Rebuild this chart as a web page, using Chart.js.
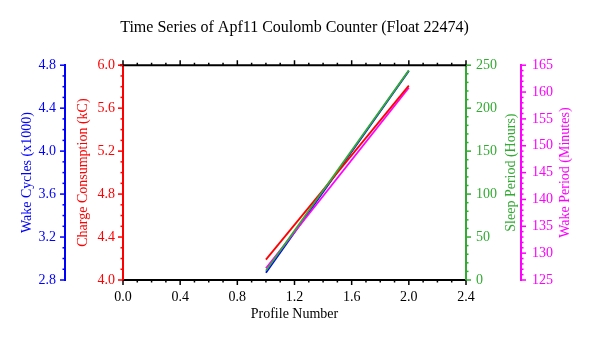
<!DOCTYPE html>
<html>
<head>
<meta charset="utf-8">
<script src="https://cdn.jsdelivr.net/npm/chart.js@4/dist/chart.umd.min.js"></script>
<style>
html,body{margin:0;padding:0;background:#fff;}
canvas{display:block;}
</style>
</head>
<body>
<canvas id="c" width="589" height="338"></canvas>
<script>
// ---- data ----
const profileNumbers = [1, 2];
const wakeCycles = [2.868, 4.747];      // x1000
const chargeConsumption = [4.19, 5.81]; // kC
const sleepPeriod = [10.8, 244];        // hours
const wakePeriod = [127.2, 160.8];      // minutes

const chartTitle = 'Time Series of Apf11 Coulomb Counter (Float 22474)';
const xTitle = 'Profile Number';
const yTitles = {
  yW: 'Wake Cycles (x1000)',
  yC: 'Charge Consumption (kC)',
  yS: 'Sleep Period (Hours)',
  yP: 'Wake Period (Minutes)'
};

const BLUE = '#0000ff', RED = '#ff0000', GREEN = '#33aa33', MAG = '#ff00ff';
const FONT = '"Liberation Serif", "DejaVu Serif", serif';

const majorStep = { x: 0.4, yW: 0.4, yC: 0.4, yS: 50, yP: 5 };
const decimals = { x: 1, yW: 1, yC: 1, yS: 0, yP: 0 };
function isMajor(v, step) {
  const r = v / step;
  return Math.abs(r - Math.round(r)) < 1e-6;
}
function labelCb(id) {
  return function (v) { return isMajor(v, majorStep[id]) ? Number(v).toFixed(decimals[id]) : ''; };
}
function pts(ys) { return profileNumbers.map((x, i) => ({ x: x, y: ys[i] })); }

const tickPlugin = {
  id: 'customTicks',
  afterDraw(chart) {
    const ctx = chart.ctx;
    const ca = chart.chartArea;
    ctx.save();
    // top frame line
    ctx.strokeStyle = '#000';
    ctx.lineWidth = 2;
    ctx.beginPath();
    ctx.moveTo(ca.left - 3, ca.top);
    ctx.lineTo(ca.right + 1, ca.top);
    ctx.stroke();
    ctx.lineWidth = 1.5;
    for (const id of Object.keys(majorStep)) {
      const s = chart.scales[id];
      ctx.strokeStyle = s.options.border.color;
      for (const t of s.ticks) {
        const len = isMajor(t.value, majorStep[id]) ? 5 : 2.5;
        const p = s.getPixelForValue(t.value);
        ctx.beginPath();
        if (id === 'x') {
          ctx.moveTo(p, s.top); ctx.lineTo(p, s.top + len);
          ctx.moveTo(p, ca.top); ctx.lineTo(p, ca.top - len);
        } else if (s.position === 'left') {
          ctx.moveTo(s.right, p); ctx.lineTo(s.right - len, p);
        } else {
          ctx.moveTo(s.left, p); ctx.lineTo(s.left + len, p);
        }
        ctx.stroke();
      }
    }
    // y axis titles (all read bottom-to-top)
    const cy = (ca.top + ca.bottom) / 2;
    const titleX = { yW: chart.scales.yW.left + 13, yC: chart.scales.yC.left + 18,
                     yS: chart.scales.yS.left + 45, yP: chart.scales.yP.left + 44 };
    ctx.font = '14px ' + FONT;
    ctx.textAlign = 'center';
    ctx.textBaseline = 'middle';
    for (const id of Object.keys(yTitles)) {
      ctx.save();
      ctx.fillStyle = chart.scales[id].options.border.color;
      ctx.translate(titleX[id], cy);
      ctx.rotate(-Math.PI / 2);
      ctx.fillText(yTitles[id], 0, 0);
      ctx.restore();
    }
    ctx.restore();
  }
};

function yScale(id, color, min, max, step, position, weight, width, pad) {
  return {
    type: 'linear', position: position, weight: weight, min: min, max: max,
    grid: { display: false, drawOnChartArea: false, drawTicks: false },
    border: { display: true, color: color, width: 2 },
    ticks: { stepSize: step, autoSkip: false, color: color, padding: pad,
             font: { family: FONT, size: 14 }, callback: labelCb(id) },
    afterFit(s) { s.width = width; }
  };
}

new Chart(document.getElementById('c'), {
  type: 'line',
  data: {
    datasets: [
      { label: 'Sleep Period', data: pts(sleepPeriod), yAxisID: 'yS', borderColor: GREEN, backgroundColor: GREEN },
      { label: 'Charge Consumption', data: pts(chargeConsumption), yAxisID: 'yC', borderColor: RED, backgroundColor: RED },
      { label: 'Wake Period', data: pts(wakePeriod), yAxisID: 'yP', borderColor: MAG, backgroundColor: MAG },
      { label: 'Wake Cycles', data: pts(wakeCycles), yAxisID: 'yW', borderColor: BLUE, backgroundColor: BLUE }
    ]
  },
  options: {
    responsive: false,
    animation: false,
    devicePixelRatio: 1,
    layout: { padding: { left: 14, right: 14, top: 0, bottom: 15 } },
    elements: { line: { borderWidth: 1.8, tension: 0 }, point: { radius: 0 } },
    plugins: {
      legend: { display: false },
      tooltip: { enabled: false },
      title: { display: true, text: chartTitle, color: '#000',
               font: { family: FONT, size: 16, weight: 'normal' },
               padding: { top: 18, bottom: 28 } }
    },
    scales: {
      x: {
        type: 'linear', position: 'bottom', min: 0, max: 2.4,
        grid: { display: false, drawTicks: false },
        border: { display: true, color: '#000', width: 2 },
        ticks: { stepSize: 0.1, autoSkip: false, maxRotation: 0, color: '#000', padding: 9,
                 font: { family: FONT, size: 14 }, callback: labelCb('x') },
        title: { display: true, text: xTitle, color: '#000',
                 font: { family: FONT, size: 14 }, padding: { top: 2, bottom: 0 } },
        afterFit(s) { s.height = 43; }
      },
      yW: yScale('yW', BLUE, 2.8, 4.8, 0.1, 'left', 2, 51, 9),
      yC: yScale('yC', RED, 4.0, 6.0, 0.1, 'left', 1, 58, 8),
      yS: yScale('yS', GREEN, 0, 250, 10, 'right', 1, 55, 10),
      yP: yScale('yP', MAG, 125, 165, 1, 'right', 2, 54, 11)
    }
  },
  plugins: [tickPlugin]
});
</script>
</body>
</html>
